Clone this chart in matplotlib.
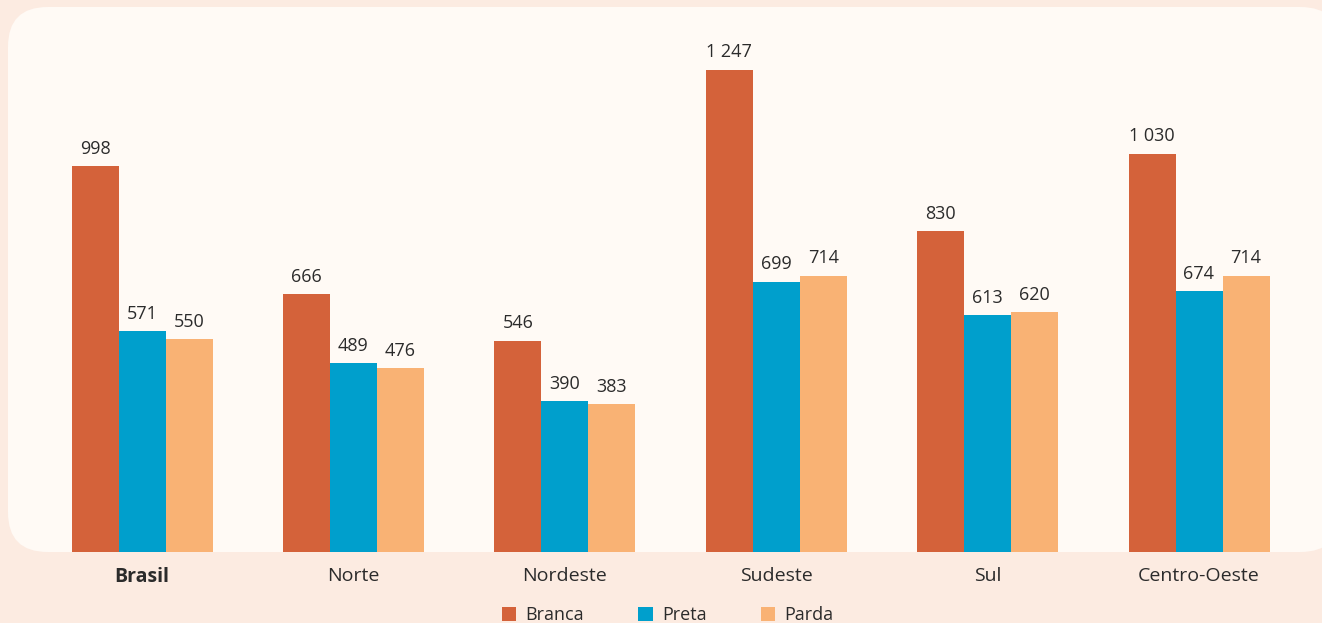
import matplotlib
matplotlib.use("Agg")
import matplotlib.pyplot as plt
from matplotlib.patches import FancyBboxPatch, Patch
import numpy as np

regioes = ["Brasil", "Norte", "Nordeste", "Sudeste", "Sul", "Centro-Oeste"]
branca = [998, 666, 546, 1247, 830, 1030]
preta = [571, 489, 390, 699, 613, 674]
parda = [550, 476, 383, 714, 620, 714]

series = [("Branca", branca, "#D4623A"),
          ("Preta", preta, "#009FCC"),
          ("Parda", parda, "#F9B274")]

plt.rcParams['font.family'] = ['Open Sans', 'DejaVu Sans']

W, H = 1322, 623
fig = plt.figure(figsize=(W / 100, H / 100), dpi=100)
fig.patch.set_facecolor("#FCEBE1")

# rounded panel behind the bars
panel = FancyBboxPatch((8 / W, (H - 552) / H), (1340 - 8) / W, (552 - 7) / H,
                       boxstyle="round,pad=0,rounding_size=0.03",
                       transform=fig.transFigure, facecolor="#FFFAF5",
                       edgecolor="none", mutation_aspect=W / H, zorder=-5)
fig.patches.append(panel)

ax = fig.add_axes([0, (H - 552) / H, 1, (552 - 7) / H])
ax.set_facecolor("none")

step = 211.4
x0 = 142
ax.set_xlim(-x0 / step, (W - x0) / step)
ax.set_ylim(0, 545 / 0.3868)

x = np.arange(len(regioes))
w = 47 / step
for i, (nome, vals, cor) in enumerate(series):
    pos = x + (i - 1) * w
    bars = ax.bar(pos, vals, width=w, color=cor, label=nome, zorder=2)
    for b, v in zip(bars, vals):
        txt = f"{v:,}".replace(",", " ")
        ax.annotate(txt, (b.get_x() + b.get_width() / 2, v),
                    xytext=(0, 6), textcoords="offset points",
                    ha="center", va="bottom", fontsize=13, color="#2b2b2b")

for s in ax.spines.values():
    s.set_visible(False)
ax.set_yticks([])
ax.set_xticks(x)
ax.set_xticklabels(regioes, fontsize=14, color="#2b2b2b")
ax.tick_params(axis="x", length=0, pad=11)
ax.get_xticklabels()[0].set_fontweight("bold")

handles = [Patch(facecolor=c, label=n) for n, _, c in series]
fig.legend(handles=handles, loc="center", bbox_to_anchor=(0.505, 1 - 615 / H),
           ncol=3, frameon=False, fontsize=13, handlelength=0.8,
           handleheight=0.8, handletextpad=0.5, columnspacing=3.0,
           labelcolor="#2b2b2b")

fig.savefig("out.png", dpi=100, facecolor=fig.get_facecolor())
